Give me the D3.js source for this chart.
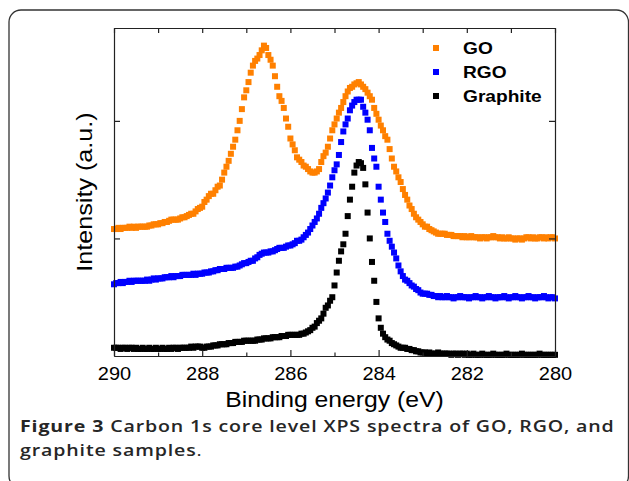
<!DOCTYPE html>
<html lang="en">
    <head>
        <meta charset="utf-8">
        <title>C 1s XPS spectra</title>
        <script type="text/javascript" src="https://d3js.org/d3.v7.min.js"></script>
        <style type="text/css">
            body { margin: 0; background: #fff; }
            .axis path, .axis line { stroke: #222; stroke-width: 1.2; }
            .axis text { font-family: "Liberation Sans", Arial, sans-serif; font-size: 18.5px; fill: #000; }
        </style>
    </head>
    <body>
        <script type="text/javascript">

        const width = 629;
        const height = 481;
        const plot = {left: 114, right: 555, top: 28, bottom: 356};
        const textStretch = 1.16;   // the original figure is a bit wider than tall

        //Data (binding energy scan 290 -> 280 eV, step 0.05 eV; intensity in a.u.)
        const eStart = 290, eStep = 0.05;
        const xTicksMajor = [290, 288, 286, 284, 282, 280];
        const xTicksMinor = [289, 287, 285, 283, 281];
        const yTicks = [100, 200];
        const seriesNames = ["GO", "RGO", "Graphite"];
        const seriesColors = ["#ff8000", "#0000ff", "#000000"];

        const goIntensity = [
            108,108,109,108,109,109,109,110,109,110, 109,110,110,110,110,110,111,111,112,112,
            112,113,113,114,114,115,116,116,116,116, 117,118,118,119,120,121,121,123,125,126,
            127,131,133,136,138,138,141,144,145,150, 156,161,166,172,178,184,192,200,210,220,
            226,233,241,247,251,253,256,260,264,262, 256,252,247,238,229,221,217,211,202,195,
            185,180,175,169,167,165,162,161,159,157, 156,156,157,159,165,170,173,178,185,192,
            197,202,207,211,216,221,225,228,229,231, 232,233,231,229,227,224,221,218,211,206,
            201,196,192,187,184,176,168,161,157,152, 148,142,137,133,128,125,121,118,116,114,
            112,110,110,108,107,106,105,104,104,104, 104,103,103,103,102,102,102,102,101,102,
            101,101,102,101,101,101,100,101,101,100, 101,101,102,101,101,100,101,100,100,101,
            100,100,99,100,100,99,100,101,101,100, 101,100,100,101,101,100,101,100,101,101,100
        ];
        const rgoIntensity = [
            61,62,62,63,62,63,63,64,63,64, 64,64,64,64,64,65,64,65,66,65,
            66,66,66,67,67,67,68,67,68,68, 68,69,69,69,69,69,70,69,70,70,
            70,71,71,71,72,72,73,73,74,74, 74,75,75,75,75,76,76,77,78,79,
            79,80,81,81,83,84,86,87,88,88, 88,89,89,90,91,92,92,92,93,94,
            94,95,96,98,98,99,101,103,105,108, 111,114,117,121,126,130,134,139,145,152,
            158,163,171,182,191,197,202,209,213,216, 218,218,218,212,207,201,192,177,168,161,
            144,133,122,114,104,98,93,88,83,77, 72,68,65,64,62,60,59,57,56,54,
            53,53,53,52,52,51,51,50,51,50, 50,51,50,50,49,50,50,51,50,50,
            50,49,50,50,51,50,50,49,50,50, 51,50,50,49,50,50,50,51,50,49,
            50,50,51,50,50,49,50,50,51,50, 50,49,50,50,50,51,50,49,50,50,49
        ];
        const graphiteIntensity = [
            7,7,7,6,7,7,6,7,7,6, 7,6,6,7,6,6,7,6,6,7,
            6,6,7,6,6,7,6,7,7,6, 7,7,7,7,7,8,7,8,8,8,
            7,7,8,8,8,9,9,9,10,10, 10,10,11,11,11,12,12,12,12,13,
            13,13,13,13,13,14,14,14,15,15, 15,15,16,16,16,16,17,17,17,18,
            18,18,18,18,18,19,19,20,21,22, 24,25,28,30,32,36,41,43,47,50,
            60,71,81,89,95,104,119,133,144,156, 162,165,164,160,146,122,100,80,64,46,
            32,24,19,16,14,13,11,10,9,8, 7,7,7,6,6,5,5,4,4,3,
            3,3,2,3,2,2,2,3,2,2, 2,2,2,1,2,2,1,2,2,1,
            2,1,1,2,1,1,1,2,1,1, 1,1,2,1,1,1,1,1,2,1,
            1,1,1,1,1,2,1,1,1,1, 1,1,1,2,1,1,1,1,1,1,1
        ];
        const seriesValues = [goIntensity, rgoIntensity, graphiteIntensity];

        const energy = d3.range(goIntensity.length).map(i => eStart - i * eStep);

        //stretch text horizontally like the original figure
        function stretch(sel, k) {
            sel.each(function() {
                const w = this.getComputedTextLength();
                d3.select(this).attr("textLength", w * k).attr("lengthAdjust", "spacingAndGlyphs");
            });
        }

        //Scales
        const xScale = d3.scaleLinear()
                        .domain([290, 280])
                        .range([plot.left, plot.right]);

        const yScale = d3.scaleLinear()
                        .domain([0, 279])
                        .range([plot.bottom, plot.top]);

        //SVG
        const svg = d3.select("body")
                    .append("svg")
                    .attr("width", width)
                    .attr("height", height);

        //Figure frame
        svg.append("rect")
            .attr("x", 9).attr("y", 10)
            .attr("width", 619.5).attr("height", 478)
            .attr("rx", 12).attr("ry", 12)
            .attr("fill", "none")
            .attr("stroke", "#333")
            .attr("stroke-width", 1.3);

        //Points
        seriesValues.forEach((vals, k) => {
            svg.append("g")
                .selectAll("rect")
                .data(vals.map((v, i) => ({e: energy[i], v: v})))
                .enter()
                .append("rect")
                .attr("x", d => xScale(d.e) - 3)
                .attr("y", d => yScale(d.v) - 3)
                .attr("width", 6)
                .attr("height", 6)
                .attr("fill", seriesColors[k]);
        });

        //Axes (ticks pointing inward)
        const bottomAxis = svg.append("g").attr("class", "axis")
            .attr("transform", "translate(0," + plot.bottom + ")")
            .call(d3.axisBottom(xScale).tickValues(xTicksMajor).tickSize(-6).tickSizeOuter(0).tickPadding(11));
        stretch(bottomAxis.selectAll("text"), 1.08);
        svg.append("g").attr("class", "axis")
            .attr("transform", "translate(0," + plot.bottom + ")")
            .call(d3.axisBottom(xScale).tickValues(xTicksMinor).tickSize(-3.5).tickSizeOuter(0).tickFormat(""));
        svg.append("g").attr("class", "axis")
            .attr("transform", "translate(0," + plot.top + ")")
            .call(d3.axisTop(xScale).tickValues(xTicksMajor.concat(xTicksMinor)).tickSize(-5).tickSizeOuter(0).tickFormat(""));
        svg.append("g").attr("class", "axis")
            .attr("transform", "translate(" + plot.left + ",0)")
            .call(d3.axisLeft(yScale).tickValues(yTicks).tickSize(-6).tickSizeOuter(0).tickFormat(""));
        svg.append("g").attr("class", "axis")
            .attr("transform", "translate(" + plot.right + ",0)")
            .call(d3.axisRight(yScale).tickValues(yTicks).tickSize(-6).tickSizeOuter(0).tickFormat(""));

        //Axis titles
        const xTitle = svg.append("text")
            .attr("x", 334.5)
            .attr("y", 407)
            .attr("text-anchor", "middle")
            .style("font-family", "'Liberation Sans', Arial, sans-serif")
            .style("font-size", "21.5px")
            .text("Binding energy (eV)");
        stretch(xTitle, 1.15);

        const yTitle = svg.append("text")
            .attr("transform", "translate(92,192) rotate(-90)")
            .attr("text-anchor", "middle")
            .style("font-family", "'Liberation Sans', Arial, sans-serif")
            .style("font-size", "21.5px")
            .text("Intensity (a.u.)");
        stretch(yTitle, 1.17);

        //Legend
        const legend = svg.append("g").attr("transform", "translate(436,48)");
        seriesNames.forEach((name, k) => {
            legend.append("rect")
                .attr("x", -3).attr("y", k * 24 - 3)
                .attr("width", 6).attr("height", 6)
                .attr("fill", seriesColors[k]);
            const t = legend.append("text")
                .attr("x", 27).attr("y", k * 24 + 5.5)
                .style("font-family", "'Liberation Sans', Arial, sans-serif")
                .style("font-size", "16.5px")
                .style("font-weight", "bold")
                .text(name);
            stretch(t, textStretch);
        });

        //Caption, first line fills the frame width
        const captionLines = [
            [["Figure 3 ", 700], ["Carbon 1s core level XPS spectra of GO, RGO, and", 600]],
            [["graphite samples", 600], [".", 400]]
        ];
        const capLeft = 20, capRight = 615;
        let capScale = 1;
        captionLines.forEach((parts, li) => {
            const t = svg.append("text")
                .style("font-family", "'Open Sans', 'Noto Sans', sans-serif")
                .style("font-size", "16px")
                .style("letter-spacing", "0.7px")
                .style("fill", "#262626");
            parts.forEach(p => t.append("tspan").style("font-weight", p[1]).text(p[0]));
            if (li === 0) capScale = (capRight - capLeft) / t.node().getComputedTextLength();
            t.attr("transform", "translate(" + capLeft + "," + (432 + li * 24) + ") scale(" + capScale + ",1)");
        });
        </script>
    </body>
</html>
